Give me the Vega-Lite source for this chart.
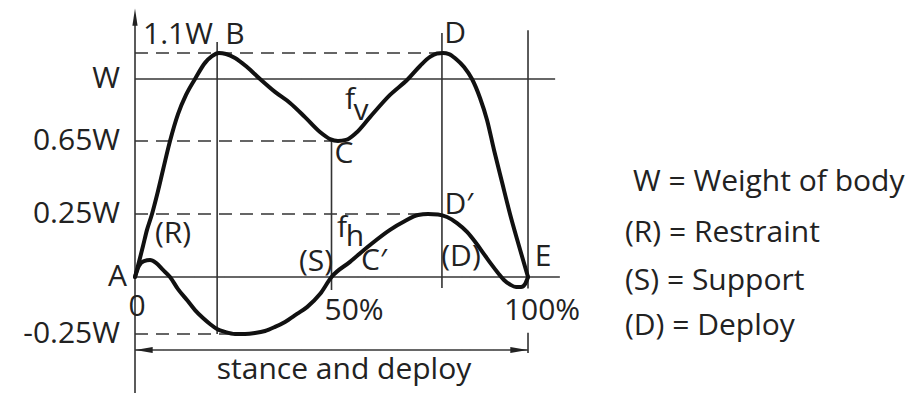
{
  "$schema": "https://vega.github.io/schema/vega-lite/v6.json",
  "width": 911,
  "height": 393,
  "autosize": "none",
  "padding": 0,
  "background": "white",
  "config": {"view": {"stroke": null}},
  "datasets": {
    "curves": [
      {"series": "fv", "x": 0, "y": 0},
      {"series": "fv", "x": 1.02, "y": 0.06},
      {"series": "fv", "x": 2.04, "y": 0.123},
      {"series": "fv", "x": 3.05, "y": 0.187},
      {"series": "fv", "x": 4.33, "y": 0.25},
      {"series": "fv", "x": 5.6, "y": 0.354},
      {"series": "fv", "x": 7.12, "y": 0.491},
      {"series": "fv", "x": 8.91, "y": 0.65},
      {"series": "fv", "x": 10.94, "y": 0.802},
      {"series": "fv", "x": 12.98, "y": 0.91},
      {"series": "fv", "x": 15.27, "y": 1.0},
      {"series": "fv", "x": 17.81, "y": 1.062},
      {"series": "fv", "x": 19.59, "y": 1.088},
      {"series": "fv", "x": 21.37, "y": 1.1},
      {"series": "fv", "x": 23.16, "y": 1.096},
      {"series": "fv", "x": 25.45, "y": 1.081},
      {"series": "fv", "x": 28.5, "y": 1.046},
      {"series": "fv", "x": 31.81, "y": 1.0},
      {"series": "fv", "x": 35.62, "y": 0.927},
      {"series": "fv", "x": 39.44, "y": 0.865},
      {"series": "fv", "x": 43.26, "y": 0.785},
      {"series": "fv", "x": 47.07, "y": 0.701},
      {"series": "fv", "x": 49.62, "y": 0.661},
      {"series": "fv", "x": 51.65, "y": 0.65},
      {"series": "fv", "x": 53.69, "y": 0.656},
      {"series": "fv", "x": 56.23, "y": 0.695},
      {"series": "fv", "x": 59.8, "y": 0.785},
      {"series": "fv", "x": 64.89, "y": 0.91},
      {"series": "fv", "x": 69.47, "y": 1.0},
      {"series": "fv", "x": 72.52, "y": 1.05},
      {"series": "fv", "x": 75.06, "y": 1.085},
      {"series": "fv", "x": 76.84, "y": 1.098},
      {"series": "fv", "x": 78.37, "y": 1.1},
      {"series": "fv", "x": 79.9, "y": 1.096},
      {"series": "fv", "x": 81.68, "y": 1.077},
      {"series": "fv", "x": 83.72, "y": 1.046},
      {"series": "fv", "x": 85.75, "y": 1.0},
      {"series": "fv", "x": 87.79, "y": 0.893},
      {"series": "fv", "x": 89.57, "y": 0.769},
      {"series": "fv", "x": 91.35, "y": 0.601},
      {"series": "fv", "x": 93.38, "y": 0.425},
      {"series": "fv", "x": 95.42, "y": 0.25},
      {"series": "fv", "x": 97.71, "y": 0.123},
      {"series": "fv", "x": 100, "y": 0},
      {"series": "fh", "x": 0, "y": 0},
      {"series": "fh", "x": 1.02, "y": 0.044},
      {"series": "fh", "x": 2.29, "y": 0.063},
      {"series": "fh", "x": 3.82, "y": 0.067},
      {"series": "fh", "x": 5.34, "y": 0.056},
      {"series": "fh", "x": 7.12, "y": 0.028},
      {"series": "fh", "x": 8.91, "y": 0},
      {"series": "fh", "x": 10.94, "y": -0.053},
      {"series": "fh", "x": 13.23, "y": -0.101},
      {"series": "fh", "x": 15.27, "y": -0.145},
      {"series": "fh", "x": 17.3, "y": -0.18},
      {"series": "fh", "x": 19.08, "y": -0.206},
      {"series": "fh", "x": 20.87, "y": -0.228},
      {"series": "fh", "x": 22.9, "y": -0.241},
      {"series": "fh", "x": 25.45, "y": -0.25},
      {"series": "fh", "x": 27.99, "y": -0.25},
      {"series": "fh", "x": 30.53, "y": -0.246},
      {"series": "fh", "x": 33.08, "y": -0.237},
      {"series": "fh", "x": 35.62, "y": -0.219},
      {"series": "fh", "x": 38.17, "y": -0.197},
      {"series": "fh", "x": 41.22, "y": -0.162},
      {"series": "fh", "x": 43.77, "y": -0.132},
      {"series": "fh", "x": 47.07, "y": -0.075},
      {"series": "fh", "x": 50, "y": 0},
      {"series": "fh", "x": 54.71, "y": 0.06},
      {"series": "fh", "x": 59.8, "y": 0.127},
      {"series": "fh", "x": 64.89, "y": 0.187},
      {"series": "fh", "x": 68.7, "y": 0.222},
      {"series": "fh", "x": 72.01, "y": 0.246},
      {"series": "fh", "x": 74.55, "y": 0.25},
      {"series": "fh", "x": 77.1, "y": 0.248},
      {"series": "fh", "x": 79.39, "y": 0.238},
      {"series": "fh", "x": 81.93, "y": 0.214},
      {"series": "fh", "x": 84.48, "y": 0.179},
      {"series": "fh", "x": 86.77, "y": 0.135},
      {"series": "fh", "x": 88.8, "y": 0.091},
      {"series": "fh", "x": 90.59, "y": 0.052},
      {"series": "fh", "x": 92.37, "y": 0.016},
      {"series": "fh", "x": 93.89, "y": -0.013},
      {"series": "fh", "x": 95.42, "y": -0.033},
      {"series": "fh", "x": 96.95, "y": -0.044},
      {"series": "fh", "x": 98.22, "y": -0.044},
      {"series": "fh", "x": 99.24, "y": -0.031},
      {"series": "fh", "x": 100, "y": 0}
    ],
    "guides": [
      {"x": 0, "x2": 0, "y": -0.509, "y2": 1.23, "kind": "solid"},
      {"x": 0, "x2": 108.1, "y": 0, "y2": 0, "kind": "solid"},
      {"x": 0, "x2": 106.9, "y": 1, "y2": 1, "kind": "solid"},
      {"x": 20.9, "x2": 20.9, "y": -0.25, "y2": 1.142, "kind": "solid"},
      {"x": 50, "x2": 50, "y": -0.057, "y2": 0.65, "kind": "solid"},
      {"x": 78.1, "x2": 78.1, "y": -0.048, "y2": 1.177, "kind": "solid"},
      {"x": 100, "x2": 100, "y": -0.05, "y2": 1.188, "kind": "solid"},
      {"x": 100, "x2": 100, "y": -0.333, "y2": -0.245, "kind": "solid"},
      {"x": 0, "x2": 100, "y": -0.32, "y2": -0.32, "kind": "solid"},
      {"x": 0, "x2": 78.1, "y": 1.1, "y2": 1.1, "kind": "dashed"},
      {"x": 0, "x2": 50, "y": 0.65, "y2": 0.65, "kind": "dashed"},
      {"x": 0, "x2": 77.6, "y": 0.25, "y2": 0.25, "kind": "dashed"},
      {"x": 0, "x2": 24, "y": -0.25, "y2": -0.25, "kind": "dashed"}
    ],
    "heads": [
      {"x": 0, "y": 1.238, "dir": "up"},
      {"x": 2.29, "y": -0.32, "dir": "left"},
      {"x": 97.7, "y": -0.32, "dir": "right"}
    ],
    "centred": [
      {"x": 25.45, "y": 1.169, "label": "B"},
      {"x": 81.43, "y": 1.173, "label": "D"},
      {"x": 54.71, "y": 0.881, "label": "f"},
      {"x": 57.51, "y": 0.819, "label": "v"},
      {"x": 53.18, "y": 0.579, "label": "C"},
      {"x": 82.4, "y": 0.299, "label": "D′"},
      {"x": 52.67, "y": 0.194, "label": "f"},
      {"x": 55.98, "y": 0.159, "label": "h"},
      {"x": 46.06, "y": 0.06, "label": "(S)"},
      {"x": 60.8, "y": 0.063, "label": "C′"},
      {"x": 82.95, "y": 0.079, "label": "(D)"},
      {"x": 103.82, "y": 0.079, "label": "E"},
      {"x": 9.67, "y": 0.171, "label": "(R)"},
      {"x": 0.51, "y": -0.132, "label": "0"},
      {"x": 55.73, "y": -0.149, "label": "50%"},
      {"x": 103.56, "y": -0.149, "label": "100%"},
      {"x": 53.18, "y": -0.408, "label": "stance and deploy"}
    ],
    "levels": [
      {"x": -3.82, "y": 1.0, "label": "W"},
      {"x": -3.82, "y": 0.65, "label": "0.65W"},
      {"x": -3.82, "y": 0.25, "label": "0.25W"},
      {"x": -2.04, "y": 0, "label": "A"},
      {"x": -3.82, "y": -0.25, "label": "-0.25W"}
    ],
    "notes": [
      {"x": 2.04, "y": 1.169, "label": "1.1W"},
      {"x": 126.72, "y": 0.425, "label": "W = Weight of body"},
      {"x": 124.68, "y": 0.175, "label": "(R) = Restraint"},
      {"x": 124.68, "y": -0.018, "label": "(S) = Support"},
      {"x": 124.68, "y": -0.215, "label": "(D) = Deploy"}
    ]
  },
  "layer": [
    {
      "data": {"name": "guides"},
      "mark": {"type": "rule", "color": "#333", "strokeWidth": 1.6},
      "encoding": {
        "x": {"field": "x", "type": "quantitative", "axis": null,
              "scale": {"domain": [-34.35, 197.45], "nice": false, "zero": false}},
        "x2": {"field": "x2"},
        "y": {"field": "y", "type": "quantitative", "axis": null,
              "scale": {"domain": [-0.509, -0.25, 0, 0.25, 0.65, 1, 1.1, 1.304],
                        "range": [393, 334, 277, 214, 141, 79, 53, 0], "nice": false, "zero": false}},
        "y2": {"field": "y2"},
        "strokeDash": {"field": "kind", "type": "nominal", "legend": null,
                       "scale": {"domain": ["solid", "dashed"], "range": [[1, 0], [13, 8]]}}
      }
    },
    {
      "data": {"name": "curves"},
      "mark": {"type": "line", "color": "#111", "strokeWidth": 4, "interpolate": "monotone", "strokeCap": "round", "strokeJoin": "round"},
      "encoding": {
        "x": {"field": "x", "type": "quantitative"},
        "y": {"field": "y", "type": "quantitative"},
        "detail": {"field": "series", "type": "nominal"}
      }
    },
    {
      "data": {"name": "heads"},
      "mark": {"type": "point", "filled": true, "color": "#222", "opacity": 1, "size": 300},
      "encoding": {
        "x": {"field": "x", "type": "quantitative"},
        "y": {"field": "y", "type": "quantitative"},
        "shape": {"field": "dir", "type": "nominal", "legend": null,
                  "scale": {"domain": ["up", "left", "right"],
                            "range": ["M0,-1L0.3,1L-0.3,1Z", "M-1,0L1,-0.35L1,0.35Z", "M1,0L-1,-0.35L-1,0.35Z"]}}
      }
    },
    {
      "data": {"name": "centred"},
      "mark": {"type": "text", "font": "Open Sans", "fontSize": 30, "color": "#222", "align": "center", "baseline": "middle"},
      "encoding": {
        "x": {"field": "x", "type": "quantitative"},
        "y": {"field": "y", "type": "quantitative"},
        "text": {"field": "label"}
      }
    },
    {
      "data": {"name": "levels"},
      "mark": {"type": "text", "font": "Open Sans", "fontSize": 30, "color": "#222", "align": "right", "baseline": "middle"},
      "encoding": {
        "x": {"field": "x", "type": "quantitative"},
        "y": {"field": "y", "type": "quantitative"},
        "text": {"field": "label"}
      }
    },
    {
      "data": {"name": "notes"},
      "mark": {"type": "text", "font": "Open Sans", "fontSize": 30, "color": "#222", "align": "left", "baseline": "middle"},
      "encoding": {
        "x": {"field": "x", "type": "quantitative"},
        "y": {"field": "y", "type": "quantitative"},
        "text": {"field": "label"}
      }
    }
  ]
}
